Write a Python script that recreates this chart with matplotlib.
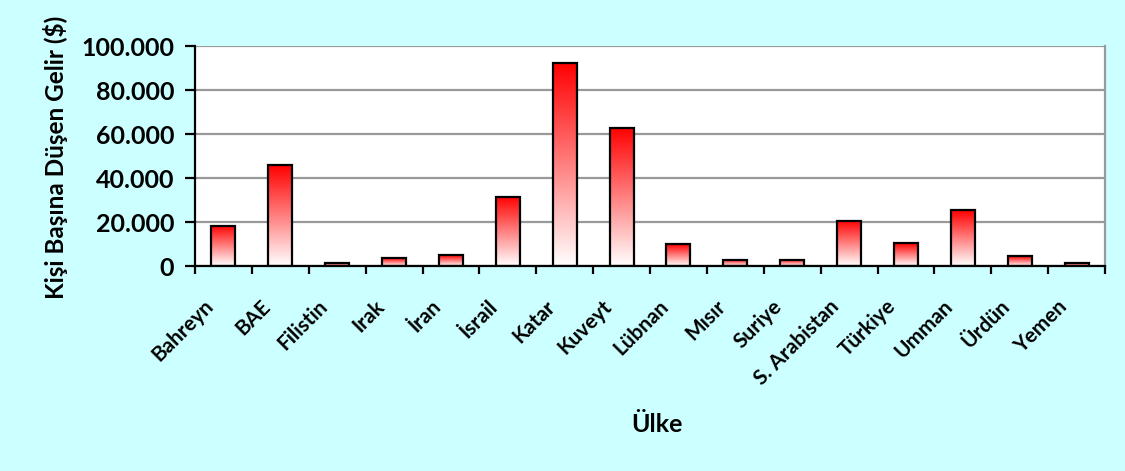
import matplotlib
matplotlib.use("Agg")
import matplotlib.pyplot as plt
import numpy as np
from matplotlib.colors import LinearSegmentedColormap
from matplotlib.ticker import FuncFormatter, FixedLocator
from matplotlib.transforms import ScaledTranslation

countries = ["Bahreyn", "BAE", "Filistin", "Irak", "İran", "İsrail", "Katar", "Kuveyt",
             "Lübnan", "Mısır", "Suriye", "S. Arabistan", "Türkiye", "Umman", "Ürdün", "Yemen"]
income = [18300, 45800, 1200, 3600, 4800, 31400, 92500, 62900,
          9800, 2800, 2800, 20600, 10400, 25300, 4500, 1200]
y_ticks = [0, 20000, 40000, 60000, 80000, 100000]

FONT = ["Lato", "DejaVu Sans"]
plt.rcParams['font.family'] = FONT

bg = "#CCFFFF"
fig = plt.figure(figsize=(11.25, 4.71), dpi=100, facecolor=bg)
ax = fig.add_axes([195/1125, 1-266/471, 910/1125, 220/471])
ax.set_facecolor("white")

n = len(countries)
x = np.arange(n)
w = 0.42
cmap = LinearSegmentedColormap.from_list("wr", ["#FFFFFF", "#FF0000"])
grad = np.linspace(0, 1, 256).reshape(-1, 1)

bars = ax.bar(x, income, width=w, facecolor="none", edgecolor="black", linewidth=1.6, zorder=4)
for b in bars:
    x0 = b.get_x(); x1 = x0 + b.get_width(); h = b.get_height()
    im = ax.imshow(grad, extent=[x0, x1, 0, h], origin="lower", aspect="auto",
                   cmap=cmap, vmin=0, vmax=1, zorder=3, interpolation="bilinear")
    im.set_clip_path(b)

ax.set_xlim(-0.5, n - 0.5)
ax.set_ylim(0, 100000)

ax.yaxis.set_major_locator(FixedLocator(y_ticks))
ax.yaxis.set_major_formatter(FuncFormatter(lambda v, p: f"{int(v):,}".replace(",", ".")))
ax.grid(axis="y", color="#999999", linewidth=1.6, zorder=1)
ax.set_axisbelow(True)

ax.xaxis.set_major_locator(FixedLocator(np.arange(n + 1) - 0.5))
ax.set_xticklabels([])
ax.set_xticks(x, minor=True)
ax.set_xticklabels(countries, minor=True, rotation=45, ha="right", va="top",
                   rotation_mode="anchor", fontsize=15, fontweight="bold")
ax.tick_params(axis="x", which="minor", length=0, pad=16)
ax.tick_params(axis="x", which="major", length=6, width=1.6, direction="out", color="black")
ax.tick_params(axis="y", length=7, width=1.6, direction="out", color="black",
               labelsize=18, pad=8)
for lab in ax.get_yticklabels():
    lab.set_fontweight("bold")
off = ScaledTranslation(-20/100, -8/100, fig.dpi_scale_trans)
for lab in ax.get_xticklabels(minor=True):
    lab.set_transform(lab.get_transform() + off)

ax.spines["left"].set_color("black"); ax.spines["left"].set_linewidth(1.6)
ax.spines["bottom"].set_color("black"); ax.spines["bottom"].set_linewidth(1.6)
ax.spines["right"].set_color("#999999"); ax.spines["right"].set_linewidth(1.6)
ax.spines["top"].set_visible(False)
for s in ax.spines.values():
    s.set_zorder(5)

fig.text(55/1125, 1-157/471, "Kişi Başına Düşen Gelir ($)", rotation=90, ha="center", va="center",
         fontsize=17.5, fontweight="bold")
fig.text(657/1125, 1-424/471, "Ülke", ha="center", va="center", fontsize=18, fontweight="bold")

fig.savefig("out.png", dpi=100, facecolor=bg)
